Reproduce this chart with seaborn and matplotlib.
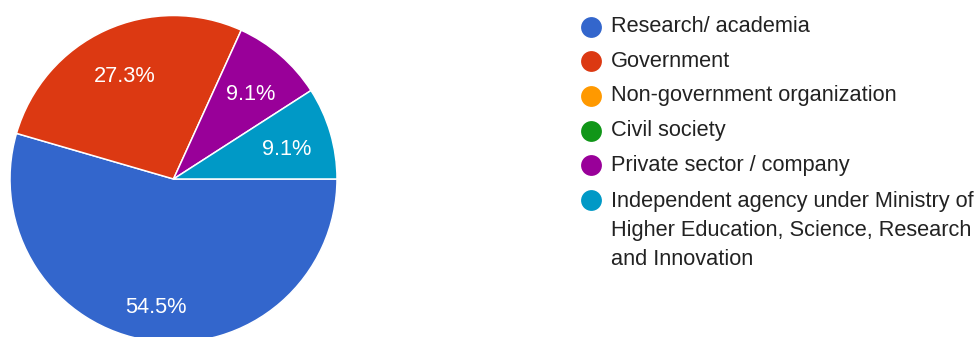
import matplotlib
matplotlib.use("Agg")
import matplotlib.pyplot as plt
import seaborn as sns
import numpy as np

sns.set_theme(style="white")
plt.rcParams['font.family'] = ['Liberation Sans', 'DejaVu Sans']

# data
categories = [
    "Research/ academia",
    "Government",
    "Non-government organization",
    "Civil society",
    "Private sector / company",
    "Independent agency under Ministry of\nHigher Education, Science, Research\nand Innovation",
]
shares = [54.5, 27.3, 0.0, 0.0, 9.1, 9.1]
colors = ["#3366CC", "#DC3912", "#FF9900", "#109618", "#990099", "#0099C6"]

W, H = 980, 337
fig = plt.figure(figsize=(W / 100, H / 100), dpi=100)

# pie axes placed in pixels: centre (173.5, 179), radius 163.5
cx, cy, r = 173.5, 179, 163.5
ax = fig.add_axes([(cx - r) / W, (H - cy - r) / H, 2 * r / W, 2 * r / H])

vals = [v for v in shares if v > 0]
cols = [c for v, c in zip(shares, colors) if v > 0]
wedges, texts, autotexts = ax.pie(
    vals, colors=cols, startangle=0, counterclock=False, radius=1,
    autopct=lambda p: f"{p:.1f}%", pctdistance=0.72,
    wedgeprops=dict(edgecolor="white", linewidth=1.1),
    textprops=dict(color="white", fontsize=15.7),
)
# nudge labels: the biggest slice gets its label a bit further out
for w, t in zip(wedges, autotexts):
    ang = np.deg2rad((w.theta1 + w.theta2) / 2)
    d = 0.77 if (w.theta2 - w.theta1) > 180 else 0.72
    t.set_position((d * np.cos(ang), d * np.sin(ang) - 0.025))

ax.set_xlim(-1, 1)
ax.set_ylim(-1, 1)
ax.set_aspect("equal")
ax.axis("off")

# legend drawn row by row in pixel space
leg = fig.add_axes([0, 0, 1, 1])
leg.set_xlim(0, W)
leg.set_ylim(H, 0)
leg.axis("off")
row_h = 34.6
for i, (lab, col) in enumerate(zip(categories, colors)):
    y = 26.7 + i * row_h
    leg.scatter([590.5], [y], s=225, color=col, linewidths=0)
    if "\n" in lab:
        leg.text(611, y - 8.5, lab, color="#222222", fontsize=15.7, va="top",
                 linespacing=1.5)
    else:
        leg.text(611, y, lab, color="#222222", fontsize=15.7, va="center")

fig.savefig("out.png", dpi=100, facecolor="white")
